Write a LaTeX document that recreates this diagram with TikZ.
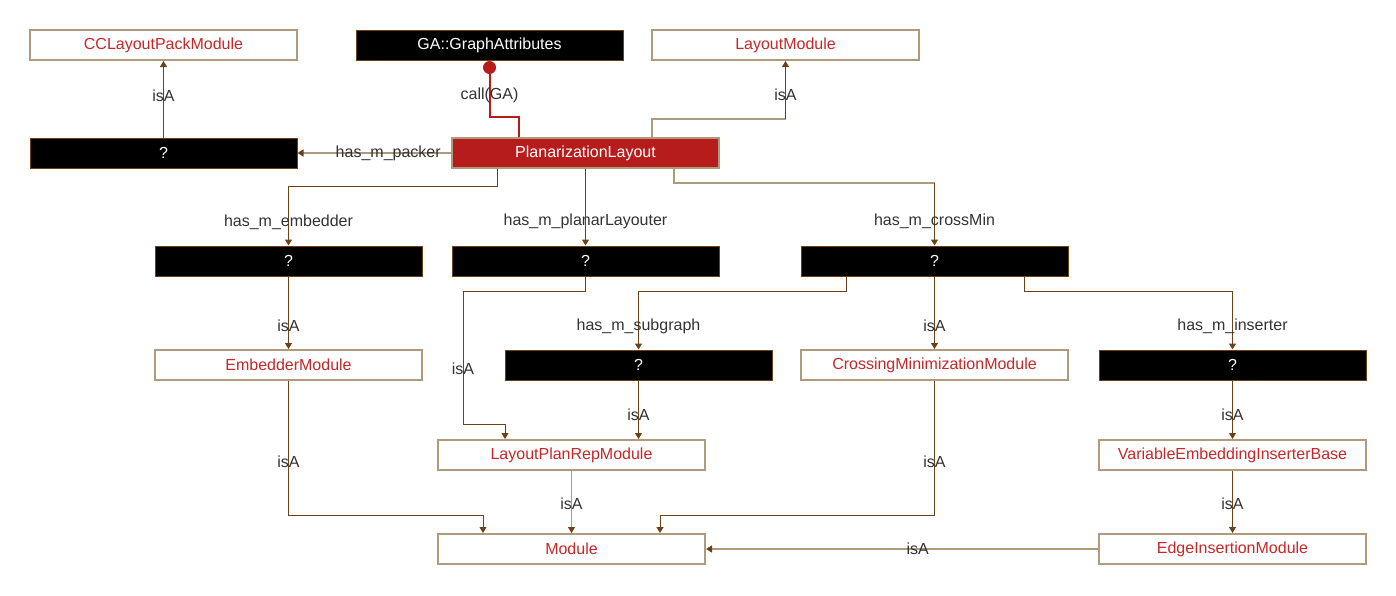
\documentclass[tikz,border=0pt]{standalone}
\usepackage{fontspec}
\setmainfont{Liberation Sans}
\usetikzlibrary{arrows.meta}
\definecolor{tanc}{HTML}{B09A7C}
\definecolor{brownc}{HTML}{6B4216}
\definecolor{boxred}{HTML}{B71C1C}
\definecolor{txtred}{HTML}{C62828}
\definecolor{lblc}{HTML}{333333}
\tikzset{
  base/.style={rectangle, minimum width=267pt, minimum height=30pt, inner sep=0pt,
    font=\fontsize{16}{19}\selectfont},
  modbox/.style={base, draw=tanc, line width=2pt, fill=white, text=txtred},
  blackbox/.style={base, draw=brownc, line width=1pt, fill=black, text=white},
  mainbox/.style={base, draw=tanc, line width=1.5pt, fill=boxred, text=white},
  tip/.style={-{Triangle[width=7pt,length=6pt,color=brownc]}},
  e/.style={draw=brownc, line width=1pt, tip},
  tane/.style={draw=tanc, line width=2pt, tip},
  tanline/.style={draw=tanc, line width=2pt},
  thine/.style={draw=tanc, line width=1pt, tip},
  redline/.style={draw=boxred, line width=2pt},
  lbl/.style={font=\fontsize{16}{19}\selectfont, text=lblc, inner sep=1pt},
}
\begin{document}
\begin{tikzpicture}[x=1pt,y=-1pt]
\useasboundingbox (0,0) rectangle (1396,595);
\fill[white] (0,0) rectangle (1396,595);
% nodes
\node[modbox]   (cclpm) at (163.5,45)  {CCLayoutPackModule};
\node[blackbox] (ga)    at (489.5,45)  {GA::GraphAttributes};
\node[modbox]   (lm)    at (785.5,45)  {LayoutModule};
\node[blackbox] (qpack) at (163.5,153) {?};
\node[mainbox]  (pl)    at (585.5,153) {PlanarizationLayout};
\node[blackbox] (qemb)  at (288.5,261) {?};
\node[blackbox] (qpl)   at (585.5,261) {?};
\node[blackbox] (qcm)   at (934.5,261) {?};
\node[modbox]   (em)    at (288.5,365) {EmbedderModule};
\node[blackbox] (qsub)  at (638.5,365) {?};
\node[modbox]   (cmm)   at (934.5,365) {CrossingMinimizationModule};
\node[blackbox] (qins)  at (1232.5,365) {?};
\node[modbox]   (lprm)  at (571.5,455) {LayoutPlanRepModule};
\node[modbox]   (veib)  at (1232.5,455) {VariableEmbeddingInserterBase};
\node[modbox]   (mod)   at (571.5,549) {Module};
\node[modbox]   (eim)   at (1232.5,549) {EdgeInsertionModule};
\coordinate (gadot) at ([yshift=-7pt]ga.south);
\coordinate (lmbend) at ([yshift=-58pt]lm.south);
\coordinate (cmbend) at ([yshift=63pt]qcm.north);

% edges
\draw[e] (qpack.north) -- node[lbl,pos=0.54]{isA} (cclpm.south);

\draw[tane] (pl.west) -- node[lbl,pos=0.41]{has\_m\_packer} (qpack.east);

\draw[redline] ([xshift=-66.5pt]pl.north) -- ++(0,-20) -| node[lbl,pos=0.72]{call(GA)} (gadot);
\fill[boxred] (gadot) circle (6.5pt);

\draw[tanline] ([xshift=66.5pt]pl.north) |- (lmbend);
\draw[e] (lmbend) -- node[lbl,pos=0.41]{isA} (lm.south);

\draw[e] ([xshift=-88.5pt]pl.south) -- ++(0,18) -| node[lbl,pos=0.8]{has\_m\_embedder} (qemb.north);
\draw[e] (pl.south) -- node[lbl,pos=0.69]{has\_m\_planarLayouter} (qpl.north);
\draw[tanline] ([xshift=88.5pt]pl.south) |- (cmbend);
\draw[e] (cmbend) -- node[lbl,pos=0.62]{has\_m\_crossMin} (qcm.north);

\draw[e] (qemb.south) -- node[lbl,pos=0.68]{isA} (em.north);
\draw[e] (qpl.south) -- ++(0,15) -| node[lbl,pos=0.79]{isA} ([xshift=-108.5pt,yshift=15pt]lprm.north) -| ([xshift=-66.5pt]lprm.north);
\draw[e] ([xshift=-88.5pt]qcm.south) -- ++(0,15) -| node[lbl,pos=0.8]{has\_m\_subgraph} (qsub.north);
\draw[e] (qcm.south) -- node[lbl,pos=0.68]{isA} (cmm.north);
\draw[e] ([xshift=89.5pt]qcm.south) -- ++(0,15) -| node[lbl,pos=0.8]{has\_m\_inserter} (qins.north);

\draw[e] (qsub.south) -- node[lbl,pos=0.58]{isA} (qsub.south |- lprm.north);
\draw[e] (qins.south) -- node[lbl,pos=0.58]{isA} (veib.north);

\draw[e] (em.south) -- node[lbl,pos=0.6]{isA} ++(0,134) -| ([xshift=-88.5pt]mod.north);
\draw[thine] (lprm.south) -- node[lbl,pos=0.53]{isA} (mod.north);
\draw[e] (cmm.south) -- node[lbl,pos=0.6]{isA} ++(0,134) -| ([xshift=88.5pt]mod.north);
\draw[e] (veib.south) -- node[lbl,pos=0.53]{isA} (eim.north);

\draw[tane] (eim.west) -- node[lbl,pos=0.46]{isA} (mod.east);
\end{tikzpicture}
\end{document}
